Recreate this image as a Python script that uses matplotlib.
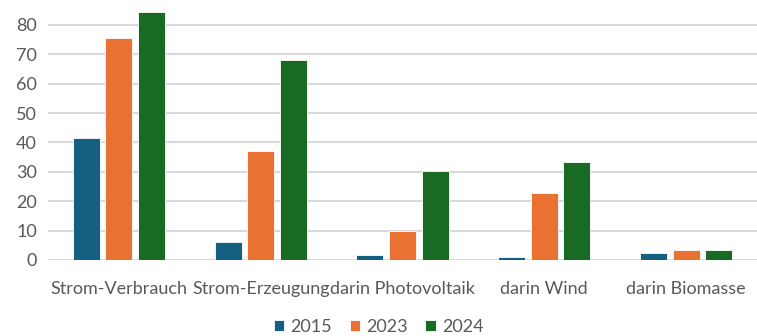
import numpy as np
import matplotlib.pyplot as plt

# Werte
kategorien = ["Strom-Verbrauch", "Strom-Erzeugung", "darin Photovoltaik", "darin Wind", "darin Biomasse"]
jahre = ["2015", "2023", "2024"]
werte_2015 = [41.6, 6.2, 1.7, 1.0, 2.5]
werte_2023 = [75.5, 37.1, 10.0, 22.8, 3.3]
werte_2024 = [84.5, 68.0, 30.3, 33.3, 3.3]
farben = ["#156082", "#E97132", "#196B24"]

plt.rcParams['font.family'] = ['Lato', 'DejaVu Sans']
textfarbe = "#595959"

fig = plt.figure(figsize=(7.57, 3.36), dpi=100)
ax = fig.add_axes([48 / 757, 76 / 336, 709 / 757, 260 / 336])

x = np.arange(len(kategorien))
breite = 0.19
abstand = 0.23
for i, (werte, jahr) in enumerate(zip([werte_2015, werte_2023, werte_2024], jahre)):
    ax.bar(x + (i - 1) * abstand, werte, width=breite, color=farben[i],
           edgecolor="white", linewidth=0.6, label=jahr, zorder=3)

ax.set_xlim(-0.5, len(kategorien) - 0.5)
ax.set_ylim(0, 88.5)
ax.set_yticks(range(0, 81, 10))
ax.set_xticks(x)
ax.set_xticklabels(kategorien)
ax.grid(axis="y", color="#d9d9d9", linewidth=1.5, zorder=0)
for s in ax.spines.values():
    s.set_visible(False)
ax.tick_params(axis="both", length=0, colors=textfarbe, labelsize=13)
ax.tick_params(axis="x", pad=15)
ax.tick_params(axis="y", pad=8)

fig.legend(loc="center", bbox_to_anchor=(0.5, 9 / 336), ncol=3, frameon=False,
           fontsize=13, labelcolor=textfarbe, handlelength=0.6, handleheight=0.6,
           handletextpad=0.3, columnspacing=1.0)

fig.savefig("out.png", dpi=100)
